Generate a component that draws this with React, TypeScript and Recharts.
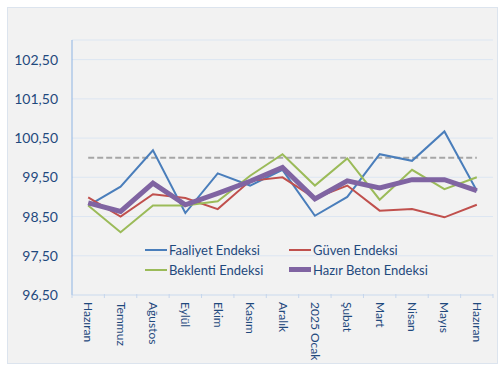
import { LineChart, Line, XAxis, YAxis, CartesianGrid } from "recharts";

// months, Haziran 2024 -> Haziran 2025
const MONTHS = [
  "Hazıran", "Temmuz", "Ağustos", "Eylül", "Ekim", "Kasım", "Aralık",
  "2025 Ocak", "Şubat", "Mart", "Nisan", "Mayıs", "Hazıran",
];

const FAALIYET = [98.78, 99.26, 100.19, 98.59, 99.6, 99.29, 99.69, 98.52, 99.0, 100.09, 99.92, 100.67, 99.16];
const GUVEN = [98.99, 98.5, 99.07, 98.97, 98.69, 99.41, 99.5, 98.97, 99.29, 98.65, 98.69, 98.48, 98.8];
const BEKLENTI = [98.78, 98.1, 98.78, 98.78, 98.89, 99.54, 100.09, 99.29, 99.98, 98.93, 99.69, 99.2, 99.5];
const HAZIR_BETON = [98.85, 98.63, 99.35, 98.8, 99.09, 99.4, 99.75, 98.95, 99.41, 99.23, 99.44, 99.44, 99.16];
const THRESHOLD = [100, 100, 100, 100, 100, 100, 100, 100, 100, 100, 100, 100, 100];

const Y_TICKS = [96.5, 97.5, 98.5, 99.5, 100.5, 101.5, 102.5];

const data = MONTHS.map((m, i) => ({
  month: m,
  idx: i,
  faaliyet: FAALIYET[i],
  guven: GUVEN[i],
  beklenti: BEKLENTI[i],
  hazir: HAZIR_BETON[i],
  esik: THRESHOLD[i],
}));

const TEXT = "#1F497D";
const FONT = "Lato, 'Open Sans', sans-serif";

const SERIES = [
  { key: "faaliyet", name: "Faaliyet Endeksi", color: "#4A7EBB", width: 2 },
  { key: "guven", name: "Güven Endeksi", color: "#C0504D", width: 2 },
  { key: "beklenti", name: "Beklenti Endeksi", color: "#9BBB59", width: 2 },
  { key: "hazir", name: "Hazır Beton Endeksi", color: "#8064A2", width: 5 },
];

const BAND = 421 / MONTHS.length;

function MonthTick(props: any) {
  const { x, y, payload, index } = props;
  const last = index === MONTHS.length - 1;
  return (
    <g>
      <line x1={x - BAND / 2} x2={x - BAND / 2} y1={y - 8} y2={y - 4} stroke="#C6D6EC" />
      {last && <line x1={x + BAND / 2} x2={x + BAND / 2} y1={y - 8} y2={y - 4} stroke="#C6D6EC" />}
      <text
        x={0}
        y={0}
        transform={`translate(${x},${y}) rotate(90)`}
        dy={4}
        textAnchor="start"
        fill={TEXT}
        fontSize={12}
        fontFamily={FONT}
      >
        {MONTHS[payload.value]}
      </text>
    </g>
  );
}

export default function App() {
  return (
    <div style={{ position: "absolute", left: 0, top: 0, width: 500, height: 367, background: "#fff" }}>
      <div
        style={{
          position: "absolute",
          left: 7,
          top: 7,
          width: 489,
          height: 355,
          background: "#F2F2F2",
          border: "1px solid #DCE4EE",
        }}
      />
      <div style={{ position: "absolute", left: 0, top: 0 }}>
        <LineChart width={500} height={367} data={data} margin={{ top: 40, right: 7, left: 0, bottom: 0 }}>
          <CartesianGrid vertical={false} stroke="#DCE6F2" strokeWidth={1} />
          <XAxis
            dataKey="idx"
            type="category"
            height={72}
            axisLine={{ stroke: "#D5E0EE" }}
            tickLine={false}
            tick={<MonthTick />}
            tickMargin={1}
            interval={0}
            padding={{ left: BAND / 2, right: BAND / 2 }}
          />
          <YAxis
            domain={[96.5, 103]}
            ticks={Y_TICKS}
            width={72}
            axisLine={{ stroke: "#8EB4E3" }}
            tickLine={false}
            tickMargin={8}
            tick={{ fill: TEXT, fontSize: 14, fontFamily: FONT }}
            tickFormatter={(v: number) => v.toFixed(2).replace(".", ",")}
            allowDataOverflow
          />
          <Line
            dataKey="esik"
            stroke="#A6A6A6"
            strokeWidth={2}
            strokeDasharray="6 3"
            dot={false}
            isAnimationActive={false}
          />
          {SERIES.map((s) => (
            <Line
              key={s.key}
              dataKey={s.key}
              name={s.name}
              stroke={s.color}
              strokeWidth={s.width}
              dot={false}
              isAnimationActive={false}
            />
          ))}
        </LineChart>
      </div>
      <div
        style={{
          position: "absolute",
          left: 145,
          top: 241,
          display: "grid",
          gridTemplateColumns: "144px 160px",
          rowGap: 3,
          fontFamily: FONT,
          fontSize: 13,
          color: TEXT,
        }}
      >
        {SERIES.map((s) => (
          <div key={s.key} style={{ display: "flex", alignItems: "center", height: 17 }}>
            <span
              style={{ display: "inline-block", width: 22, height: s.width, background: s.color, marginRight: 2 }}
            />
            <span>{s.name}</span>
          </div>
        ))}
      </div>
    </div>
  );
}
